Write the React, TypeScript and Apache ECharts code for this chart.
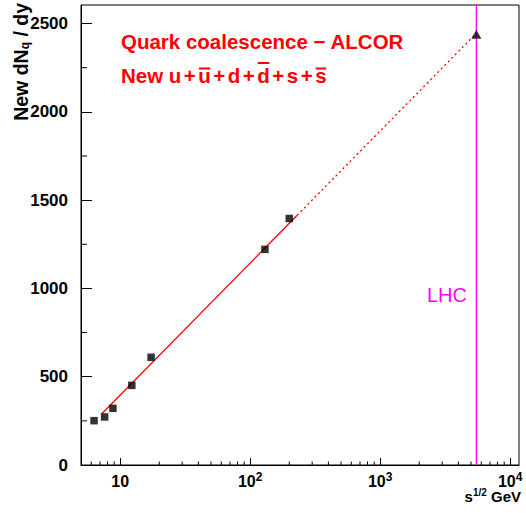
import React, { useEffect, useRef } from "react";
import * as echarts from "echarts";

// Data
const energies = [6.3, 7.6, 8.8, 12.3, 17.3, 130, 200]; // sqrt(s) GeV
const yields = [251, 272, 321, 451, 610, 1221, 1396]; // New dN_q/dy
const lhcEnergy = [5500];
const lhcYield = [2440];
const fitSolidX = [7.2, 230];
const fitSolidY = [289, 1414];
const fitDottedX = [230, 5500];
const fitDottedY = [1414, 2445];

// Axis ranges and ticks
const xRange = [5, 11700];
const yRange = [0, 2605];
const xMinorTicks = [
  6, 7, 8, 9, 20, 30, 40, 50, 60, 70, 80, 90, 200, 300, 400, 500, 600, 700, 800, 900,
  2000, 3000, 4000, 5000, 6000, 7000, 8000, 9000,
];
const yMinorTicks = [250, 750, 1250, 1750, 2250];

// Second caption line: pieces, with "bar" marking anti-quarks
const quarkPieces = ["New ", "u", "+", "u", "+", "d", "+", "d", "+", "s", "+", "s"];
const quarkBars = [false, false, false, true, false, false, false, true, false, false, false, true];

const FONT = '"Liberation Sans", Arial, Helvetica, sans-serif';

export default function App() {
  const ref = useRef<HTMLDivElement>(null);

  useEffect(() => {
    document.body.style.margin = "0";
    if (!ref.current) return;
    const chart = echarts.init(ref.current, null, { renderer: "svg" });

    const pair = (xs: number[], ys: number[]) => xs.map((x, i) => [x, ys[i]]);

    // Lay out the second caption line piece by piece (ROOT-like wide "+")
    const FS2 = 20.5;
    const LINE2_Y = 75;
    const PLUS_PAD = 2.5;
    const ctx = document.createElement("canvas").getContext("2d");
    if (ctx) ctx.font = `bold ${FS2}px "Liberation Sans"`;
    const measure = (t: string) => (ctx ? ctx.measureText(t).width : t.length * FS2 * 0.58);
    const line2: any[] = [];
    let cx = 121;
    quarkPieces.forEach((t, i) => {
      const isPlus = t === "+";
      if (isPlus) cx += PLUS_PAD;
      const w = measure(t);
      line2.push({
        type: "text",
        x: cx,
        y: LINE2_Y,
        style: { text: t, fill: "#ff0000", fontSize: FS2, fontWeight: "bold", fontFamily: FONT, verticalAlign: "middle" },
      });
      if (quarkBars[i]) {
        const by = t === "d" ? LINE2_Y - 12 : LINE2_Y - 6.5;
        line2.push({
          type: "line",
          shape: { x1: cx + 0.5, y1: by, x2: cx + w - 0.5, y2: by },
          style: { stroke: "#ff0000", lineWidth: 2 },
        });
      }
      cx += w;
      if (isPlus) cx += PLUS_PAD;
    });

    chart.setOption({
      animation: false,
      backgroundColor: "#ffffff",
      grid: {
        left: 81,
        right: 7,
        top: 5,
        bottom: 48,
        show: true,
        borderColor: "#000",
        borderWidth: 1,
        backgroundColor: "transparent",
      },
      xAxis: {
        type: "log",
        logBase: 10,
        min: xRange[0],
        max: xRange[1],
        axisLine: { lineStyle: { color: "#000", width: 1 } },
        axisTick: { inside: true, length: 7, lineStyle: { color: "#000" } },
        splitLine: { show: false },
        axisLabel: {
          showMinLabel: false,
          showMaxLabel: false,
          margin: 10,
          color: "#000",
          formatter: (v: number) => {
            const e = Math.round(Math.log10(v));
            if (Math.abs(v - Math.pow(10, e)) > 1e-6 * v) return "";
            return e === 1 ? "{b|10}" : `{b|10}{s|${e}}`;
          },
          rich: {
            b: { fontSize: 16, fontWeight: "bold", fontFamily: FONT, color: "#000", lineHeight: 12 },
            s: { fontSize: 12, fontWeight: "bold", fontFamily: FONT, color: "#000", lineHeight: 4, padding: [0, 0, 8, 0] },
          },
        },
      },
      yAxis: {
        type: "value",
        min: yRange[0],
        max: yRange[1],
        interval: 500,
        axisLine: { show: true, lineStyle: { color: "#000", width: 1 } },
        axisTick: { inside: true, length: 11, lineStyle: { color: "#000" } },
        splitLine: { show: false },
        axisLabel: {
          showMaxLabel: false,
          margin: 13,
          color: "#000",
          fontSize: 17,
          fontWeight: "bold",
          fontFamily: FONT,
          formatter: (v: number) => String(v),
        },
      },
      series: [
        {
          type: "custom",
          coordinateSystem: "cartesian2d",
          silent: true,
          clip: false,
          data: xMinorTicks.map((v) => [v, yRange[0]]),
          renderItem: (_p: any, api: any) => {
            const p = api.coord([api.value(0), api.value(1)]);
            return {
              type: "line",
              shape: { x1: p[0], y1: p[1], x2: p[0], y2: p[1] - 3.5 },
              style: { stroke: "#000", lineWidth: 1 },
            };
          },
        },
        {
          type: "custom",
          coordinateSystem: "cartesian2d",
          silent: true,
          clip: false,
          data: yMinorTicks.map((v) => [xRange[0], v]),
          renderItem: (_p: any, api: any) => {
            const p = api.coord([api.value(0), api.value(1)]);
            return {
              type: "line",
              shape: { x1: p[0], y1: p[1], x2: p[0] + 6, y2: p[1] },
              style: { stroke: "#000", lineWidth: 1 },
            };
          },
        },
        {
          type: "line",
          data: [
            [lhcEnergy[0], yRange[0]],
            [lhcEnergy[0], yRange[1]],
          ],
          symbol: "none",
          silent: true,
          lineStyle: { color: "#ff00ff", width: 1.3 },
        },
        {
          type: "line",
          data: pair(fitSolidX, fitSolidY),
          symbol: "none",
          silent: true,
          lineStyle: { color: "#ff0000", width: 1.3 },
        },
        {
          type: "line",
          data: pair(fitDottedX, fitDottedY),
          symbol: "none",
          silent: true,
          lineStyle: { color: "#ff0000", width: 1.3, type: [2, 3] },
        },
        {
          type: "scatter",
          data: pair(energies, yields),
          symbol: "rect",
          symbolSize: 7.5,
          itemStyle: { color: "#000" },
          z: 5,
        },
        {
          type: "scatter",
          data: pair(lhcEnergy, lhcYield),
          symbol: "triangle",
          symbolSize: [10, 9],
          itemStyle: { color: "#000" },
          z: 5,
        },
      ],
      graphic: [
        {
          type: "text",
          x: 121,
          y: 41,
          style: {
            text: "Quark coalescence \u2212 ALCOR",
            fill: "#ff0000",
            fontSize: 20.5,
            fontWeight: "bold",
            fontFamily: FONT,
            verticalAlign: "middle",
          },
        },
        ...line2,
        {
          type: "text",
          x: 427,
          y: 295,
          style: {
            text: "LHC",
            fill: "#ff00ff",
            fontSize: 20,
            fontFamily: FONT,
            verticalAlign: "middle",
          },
        },
        {
          type: "text",
          x: 521,
          y: 496,
          style: {
            text: "{b|s}{s|1/2}{b| GeV}",
            align: "right",
            verticalAlign: "middle",
            rich: {
              b: { fontSize: 15, fontWeight: "bold", fontFamily: FONT, fill: "#000", lineHeight: 11 },
              s: { fontSize: 10, fontWeight: "bold", fontFamily: FONT, fill: "#000", lineHeight: 3, padding: [0, 0, 8, 0] },
            },
          },
        },
        {
          type: "text",
          x: 21,
          y: 3,
          rotation: Math.PI / 2,
          style: {
            text: "{b|New dN}{s|q}{b| / dy}",
            align: "right",
            verticalAlign: "middle",
            rich: {
              b: { fontSize: 19.5, fontWeight: "bold", fontFamily: FONT, fill: "#000", lineHeight: 20, verticalAlign: "top" },
              s: { fontSize: 12, fontWeight: "bold", fontFamily: FONT, fill: "#000", lineHeight: 20, verticalAlign: "bottom", padding: [8, 0, 0, 0] },
            },
          },
        },
      ],
    });

    return () => chart.dispose();
  }, []);

  return <div ref={ref} style={{ width: 526, height: 513 }} />;
}
